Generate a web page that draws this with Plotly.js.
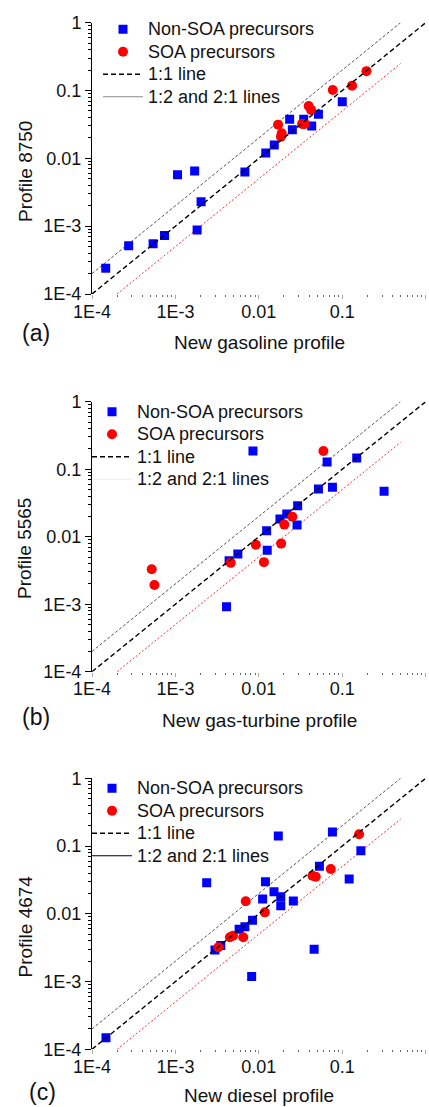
<!DOCTYPE html>
<html><head><meta charset="utf-8">
<script src="https://cdn.plot.ly/plotly-3.0.1.min.js"></script>
<style>html,body{margin:0;padding:0;background:#fff}#chart{width:429px;height:1107px}</style>
</head><body><div id="chart"></div>
<script>
// ---------- data ----------
// (a) New gasoline profile vs Profile 8750
const gasNonSoaX = [1.46e-4, 2.75e-4, 5.4e-4, 7.4e-4, 1.06e-3, 1.70e-3, 2.03e-3, 1.82e-3, 6.8e-3, 0.0121, 0.0153, 0.0234, 0.0252, 0.0345, 0.043, 0.0518, 0.100];
const gasNonSoaY = [2.4e-4, 5.15e-4, 5.5e-4, 7.3e-4, 5.75e-3, 6.5e-3, 2.3e-3, 8.8e-4, 6.3e-3, 0.0120, 0.0158, 0.0378, 0.0265, 0.0378, 0.030, 0.0447, 0.0686];
const gasSoaX = [0.0170, 0.0188, 0.0184, 0.0330, 0.0355, 0.0396, 0.0423, 0.0769, 0.131, 0.195];
const gasSoaY = [0.0314, 0.0234, 0.0209, 0.0322, 0.0322, 0.0593, 0.0518, 0.102, 0.118, 0.193];
// (b) New gas-turbine profile vs Profile 5565
const turbNonSoaX = [8.5e-3, 4.1e-3, 4.4e-3, 5.6e-3, 0.0124, 0.0126, 0.0179, 0.0216, 0.0287, 0.0292, 0.0518, 0.0658, 0.0762, 0.149, 0.317];
const turbNonSoaY = [0.186, 9.2e-4, 4.4e-3, 5.55e-3, 0.0123, 6.3e-3, 0.0183, 0.0217, 0.0149, 0.0288, 0.0509, 0.128, 0.054, 0.147, 0.047];
const turbSoaX = [5.2e-4, 5.6e-4, 4.6e-3, 9.2e-3, 0.0115, 0.0185, 0.0202, 0.0252, 0.0594];
const turbSoaY = [3.3e-3, 1.92e-3, 4.1e-3, 7.6e-3, 4.2e-3, 7.9e-3, 0.0151, 0.0198, 0.186];
// (c) New diesel profile vs Profile 4674
const dieselNonSoaX = [1.47e-4, 2.37e-3, 2.98e-3, 3.5e-3, 5.8e-3, 6.8e-3, 8.4e-3, 8.2e-3, 0.0111, 0.0120, 0.0152, 0.0171, 0.0183, 0.0183, 0.0259, 0.046, 0.0532, 0.0762, 0.121, 0.167];
const dieselNonSoaY = [1.48e-4, 0.0288, 2.92e-3, 3.4e-3, 5.9e-3, 6.45e-3, 8.0e-3, 1.19e-3, 0.0165, 0.0298, 0.0212, 0.141, 0.0179, 0.0132, 0.0155, 2.99e-3, 0.0502, 0.161, 0.0327, 0.0853];
const dieselSoaX = [3.27e-3, 4.5e-3, 4.9e-3, 6.5e-3, 6.97e-3, 0.0118, 0.0439, 0.0481, 0.0728, 0.159];
const dieselSoaY = [3.2e-3, 4.5e-3, 4.75e-3, 4.5e-3, 0.0153, 0.0105, 0.0365, 0.0353, 0.0458, 0.149];
// reference lines
const oneToOneX = [1e-4, 1];
const oneToOneY = [1e-4, 1];
const twoToOneX = [1e-4, 0.5];
const twoToOneY = [2e-4, 1];
const oneToTwoX = [2e-4, 0.5];
const oneToTwoY = [1e-4, 0.25];
// labels
const tickVals = [1e-4, 1e-3, 0.01, 0.1, 1];
const tickText = ['1E-4', '1E-3', '0.01', '0.1', '1'];
const xTitles = ['New gasoline profile', 'New gas-turbine profile', 'New diesel profile'];
const yTitles = ['Profile 8750', 'Profile 5565', 'Profile 4674'];
const panelLabels = ['(a)', '(b)', '(c)'];
const seriesNames = ['Non-SOA precursors', 'SOA precursors', '1:1 line', '1:2 and 2:1 lines'];

// ---------- layout helpers ----------
const W = 429, H = 1107;
const px = v => v / W;
const py = v => 1 - v / H;
const FONT = 'Arial, "Liberation Sans", sans-serif';
const legName = s => '<span style="font-size:18px">' + s + '</span>';
const panels = [
  {nx: gasNonSoaX, ny: gasNonSoaY, sx: gasSoaX, sy: gasSoaY, top: 22.7, bot: 294, legColor: '#8a8a8a',
   legX: 98, legTop: 13, xt: 342, yt: 172, lab: [36, 333]},
  {nx: turbNonSoaX, ny: turbNonSoaY, sx: turbSoaX, sy: turbSoaY, top: 401.7, bot: 671.7, legColor: '#ececec',
   legX: 87, legTop: 395.5, xt: 720, yt: 549, lab: [36, 716.7]},
  {nx: dieselNonSoaX, ny: dieselNonSoaY, sx: dieselSoaX, sy: dieselSoaY, top: 778.3, bot: 1049.3, legColor: '#000',
   legX: 87, legTop: 772, xt: 1095, yt: 926.5, lab: [42, 1092]}
];

const traces = [];
const layout = {
  width: W, height: H,
  margin: {l: 0, r: 0, t: 0, b: 0},
  paper_bgcolor: '#fff', plot_bgcolor: '#fff',
  font: {family: FONT, size: 18, color: '#111'},
  showlegend: true,
  annotations: []
};

panels.forEach((p, i) => {
  const n = i === 0 ? '' : String(i + 1);
  const xa = 'x' + n, ya = 'y' + n;
  const leg = 'legend' + n;
  const common = {xaxis: xa, yaxis: ya, legend: leg};
  traces.push(Object.assign({x: twoToOneX, y: twoToOneY, mode: 'lines', showlegend: false, hoverinfo: 'skip',
    line: {color: '#555', width: 1, dash: '3px,2px'}}, common));
  traces.push(Object.assign({x: oneToTwoX, y: oneToTwoY, mode: 'lines', showlegend: false, hoverinfo: 'skip',
    line: {color: '#ff3030', width: 1, dash: '2px,2px'}}, common));
  traces.push(Object.assign({x: p.nx, y: p.ny, mode: 'markers', name: legName(seriesNames[0]),
    marker: {symbol: 'square', size: 9, color: '#0000ff'}}, common));
  traces.push(Object.assign({x: p.sx, y: p.sy, mode: 'markers', name: legName(seriesNames[1]),
    marker: {symbol: 'circle', size: 10, color: '#ff0000'}}, common));
  traces.push(Object.assign({x: oneToOneX, y: oneToOneY, mode: 'lines', name: legName(seriesNames[2]),
    line: {color: '#000', width: 1.4, dash: '5px,3px'}}, common));
  traces.push(Object.assign({x: [null], y: [null], mode: 'lines', name: legName(seriesNames[3]),
    line: {color: p.legColor, width: 1.2}}, common));

  layout['xaxis' + n] = {
    type: 'log', range: [-4, 0], domain: [px(92), px(425.7)], anchor: ya,
    tickmode: 'array', tickvals: tickVals, ticktext: tickText,
    showline: false, zeroline: false, showgrid: false,
    ticks: 'outside', ticklen: 4, tickcolor: '#aaa', tickwidth: 1, ticklabelstandoff: -3,
    minor: {ticks: 'outside', ticklen: 2, tickcolor: '#666', dtick: 'D1', showgrid: false},
    tickfont: {family: FONT, size: 18, color: '#111'}
  };
  layout['yaxis' + n] = {
    type: 'log', range: [-4, 0], domain: [py(p.bot), py(p.top)], anchor: xa,
    tickmode: 'array', tickvals: tickVals, ticktext: tickText,
    showline: true, linecolor: '#000', linewidth: 1, zeroline: false, showgrid: false,
    ticks: 'outside', ticklen: 6, tickcolor: '#000', tickwidth: 1,
    minor: {ticks: 'outside', ticklen: 3, tickcolor: '#000', dtick: 'D1', showgrid: false},
    tickfont: {family: FONT, size: 18, color: '#111'}
  };
  layout[leg] = {
    x: px(p.legX), xanchor: 'left', y: py(p.legTop), yanchor: 'top',
    bgcolor: 'rgba(0,0,0,0)', borderwidth: 0,
    font: {family: FONT, size: 15, color: '#111'},
    tracegroupgap: 0, itemwidth: 40
  };
  layout.annotations.push(
    {text: xTitles[i], xref: 'paper', yref: 'paper', x: px(259), y: py(p.xt), xanchor: 'center', yanchor: 'middle',
     showarrow: false, font: {family: FONT, size: 19, color: '#111'}},
    {text: yTitles[i], xref: 'paper', yref: 'paper', x: px(25), y: py(p.yt), xanchor: 'center', yanchor: 'middle',
     textangle: -90, showarrow: false, font: {family: FONT, size: 19, color: '#111'}},
    {text: panelLabels[i], xref: 'paper', yref: 'paper', x: px(p.lab[0]), y: py(p.lab[1]), xanchor: 'center', yanchor: 'middle',
     showarrow: false, font: {family: FONT, size: 23, color: '#111'}}
  );
});

Plotly.newPlot('chart', traces, layout, {staticPlot: true});
</script>
</body></html>
